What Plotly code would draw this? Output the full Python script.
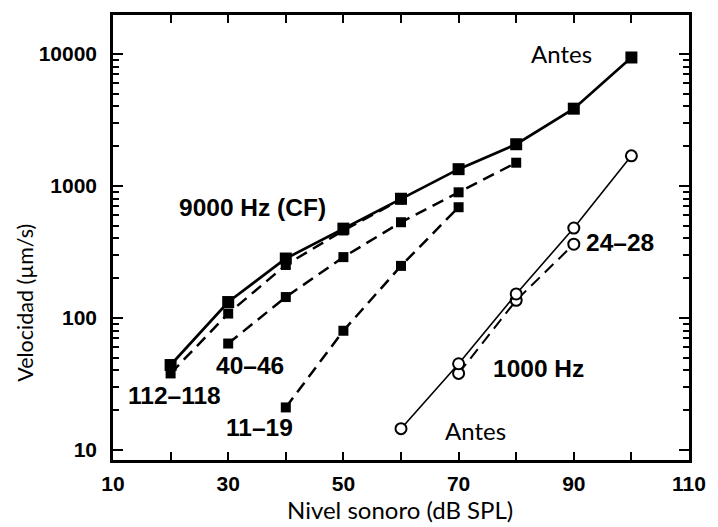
import plotly.graph_objects as go

# ---- data ----
cf_antes_x = [20, 30, 40, 50, 60, 70, 80, 90, 100]
cf_antes_y = [44, 132, 282, 475, 800, 1340, 2070, 3850, 9400]

cf_112_x = [20, 30, 40, 50, 60]
cf_112_y = [38, 108, 252, 460, 790]

cf_40_x = [30, 40, 50, 60, 70, 80]
cf_40_y = [64, 144, 289, 531, 895, 1500]

cf_11_x = [40, 50, 60, 70]
cf_11_y = [21, 80, 248, 690]

k1_antes_x = [60, 70, 80, 90, 100]
k1_antes_y = [14.5, 45, 152, 480, 1690]

k1_24_x = [70, 80, 90]
k1_24_y = [38, 136, 362]

x_ticks = [10, 30, 50, 70, 90, 110]
y_ticks = [10, 100, 1000, 10000]
y_ticklabels = ["10", "100", "1000", "10000"]

BOLD = "Liberation Sans"
REG = "Lato"

fig = go.Figure()

def add(x, y, dash, width, symbol, size, fill, lw_marker=0):
    fig.add_trace(go.Scatter(
        x=x, y=y, mode="lines+markers",
        line=dict(color="black", width=width, dash=dash),
        marker=dict(symbol=symbol, size=size, color=fill,
                    line=dict(color="black", width=lw_marker)),
        showlegend=False))

add(cf_112_x, cf_112_y, "12px,7px", 2.5, "square", 10, "black")
add(cf_40_x, cf_40_y, "12px,7px", 2.5, "square", 10, "black")
add(cf_11_x, cf_11_y, "12px,7px", 2.5, "square", 10, "black")
add(cf_antes_x, cf_antes_y, "solid", 2.7, "square", 12, "black")
add(k1_24_x, k1_24_y, "12px,7px", 2.0, "circle", 11, "white", 2)
add(k1_antes_x, k1_antes_y, "solid", 1.6, "circle", 11, "white", 2)

minor_y = [v * m for v in [10, 100, 1000] for m in range(2, 10)] + [20000]

fig.update_xaxes(
    range=[10, 110], tickvals=x_ticks, ticktext=[str(v) for v in x_ticks],
    ticks="inside", ticklen=8, tickwidth=2, tickcolor="black",
    minor=dict(tickvals=[20, 40, 60, 80, 100], ticks="inside", ticklen=8, tickwidth=2, tickcolor="black"),
    showline=True, linecolor="black", linewidth=2.5, mirror="allticks",
    showgrid=False, zeroline=False,
    tickfont=dict(family=BOLD, size=21, color="black", weight="bold"),
    ticklabelstandoff=3,
)
fig.update_yaxes(
    type="log", range=[0.924, 4.295], tickvals=y_ticks, ticktext=y_ticklabels,
    ticks="inside", ticklen=10, tickwidth=2, tickcolor="black",
    minor=dict(tickvals=minor_y, ticks="inside", ticklen=6, tickwidth=2, tickcolor="black"),
    showline=True, linecolor="black", linewidth=2.5, mirror="allticks",
    showgrid=False, zeroline=False,
    tickfont=dict(family=BOLD, size=21, color="black", weight="bold"),
    ticklabelstandoff=9,
)

def note(x, yv, text, family, size, bold=False):
    fig.add_annotation(x=x, y=yv, text=text, showarrow=False, xanchor="center", yanchor="middle",
                       font=dict(family=family, size=size, color="black", weight="bold" if bold else "normal"))

note(87.9, 4.0, "Antes", REG, 24)
note(72.9, 1.150, "Antes", REG, 24)
note(34.2, 2.836, "9000 Hz (CF)", BOLD, 24.5, True)
note(98.1, 2.571, "24–28", BOLD, 24.5, True)
note(83.9, 1.619, "1000 Hz", BOLD, 24.5, True)
note(20.6, 1.415, "112–118", BOLD, 24.5, True)
note(33.7, 1.642, "40–46", BOLD, 24.5, True)
note(35.4, 1.173, "11–19", BOLD, 24.5, True)

fig.add_annotation(xref="paper", yref="paper", x=0.499, y=-0.112, text="Nivel sonoro (dB SPL)",
                   showarrow=False, xanchor="center", yanchor="middle",
                   font=dict(family=REG, size=24, color="black"))
fig.add_annotation(xref="paper", yref="paper", x=-0.153, y=0.353, text="Velocidad (µm/s)",
                   textangle=-90, showarrow=False, xanchor="center", yanchor="middle",
                   font=dict(family=REG, size=21.5, color="black"))

fig.update_layout(
    width=718, height=527,
    margin=dict(l=113, r=18, t=14, b=67),
    paper_bgcolor="white", plot_bgcolor="white",
)

fig.write_html("out.html")
